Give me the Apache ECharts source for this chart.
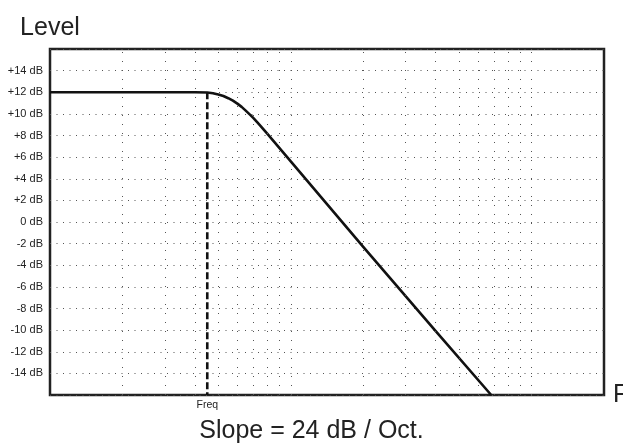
<!DOCTYPE html>
<html><head><meta charset="utf-8">
<script src="https://cdn.jsdelivr.net/npm/echarts@6/dist/echarts.min.js"></script>
<style>html,body{margin:0;padding:0;background:#fff}#c{width:623px;height:448px}</style>
</head><body><div id="c"></div>
<script>
// ---- data ----
const freqMin = 1, freqMax = 200;
const levelMin = -16, levelMax = 16, levelStep = 2;
const gridFreqs = [2, 3, 4, 5, 6, 7, 8, 9, 10, 20, 30, 40, 50, 60, 70, 80, 90, 100];
const curveFreq  = [1, 3, 4, 4.5, 4.75, 5, 5.25, 5.5, 5.75, 6, 6.25, 6.5, 6.75, 7, 7.25, 7.5, 8, 10, 20, 40, 68];
const curveLevel = [12, 12, 12, 11.97, 11.9, 11.8, 11.65, 11.45, 11.22, 10.95, 10.65, 10.3, 9.95, 9.6, 9.23, 8.87, 8.15, 5.6, -2.3, -10.1, -16];
const cutoffFreq = 4.5;
const cutoffLevels = [12, -16];
const cutoffLabel = 'Freq';
const xName = 'Freq';
const yName = 'Level';
const titleText = 'Slope = 24 dB / Oct.';

const FONT = 'Liberation Sans, Arial, Helvetica, sans-serif';
const chart = echarts.init(document.getElementById('c'), null, {renderer: 'canvas'});
chart.setOption({
  animation: false,
  backgroundColor: '#fff',
  textStyle: {fontFamily: FONT, color: '#222'},
  title: {
    text: titleText, left: 'center', top: 419, padding: 0,
    textStyle: {fontFamily: FONT, fontSize: 25, fontWeight: 'normal', color: '#222'}
  },
  grid: {left: 50, right: 19, top: 49, bottom: 53, show: true, containLabel: false,
         outerBoundsMode: 'none',
         borderColor: '#222', borderWidth: 2.5, backgroundColor: 'transparent'},
  xAxis: {
    type: 'log', logBase: 10, min: freqMin, max: freqMax,
    name: xName, nameLocation: 'end', nameGap: 9,
    nameTextStyle: {fontFamily: FONT, fontSize: 25, color: '#222', verticalAlign: 'middle'},
    axisLine: {show: false, onZero: false}, axisTick: {show: false},
    splitLine: {show: false}, minorSplitLine: {show: false},
    axisLabel: {show: true, customValues: [cutoffFreq], formatter: () => cutoffLabel,
                fontFamily: FONT, fontSize: 10.5, color: '#222', margin: 5}
  },
  yAxis: {
    type: 'value', min: levelMin, max: levelMax, interval: levelStep,
    name: yName, nameLocation: 'end', nameGap: 8,
    nameTextStyle: {fontFamily: FONT, fontSize: 25, color: '#222', align: 'center'},
    axisLine: {show: false}, axisTick: {show: false},
    axisLabel: {
      fontFamily: FONT, fontSize: 11, color: '#222', margin: 7,
      formatter: v => (v === levelMin || v === levelMax) ? '' : (v > 0 ? '+' : '') + v + ' dB'
    },
    splitLine: {show: true, lineStyle: {color: '#555', width: 1, type: [1, 5.5]}}
  },
  series: [
    {
      type: 'line', data: [], silent: true,
      markLine: {
        silent: true, symbol: 'none', animation: false,
        label: {show: false},
        lineStyle: {color: '#555', width: 1, type: [1, 8]},
        data: gridFreqs.map(f => ({xAxis: f}))
      }
    },
    {
      type: 'line', showSymbol: false, silent: true,
      data: cutoffLevels.map(l => [cutoffFreq, l]),
      lineStyle: {color: '#111', width: 2.6, type: [7, 3]}
    },
    {
      type: 'line', showSymbol: false, silent: true, smooth: false,
      data: curveFreq.map((f, i) => [f, curveLevel[i]]),
      lineStyle: {color: '#111', width: 2.6, join: 'round'}
    }
  ]
});
</script></body></html>
